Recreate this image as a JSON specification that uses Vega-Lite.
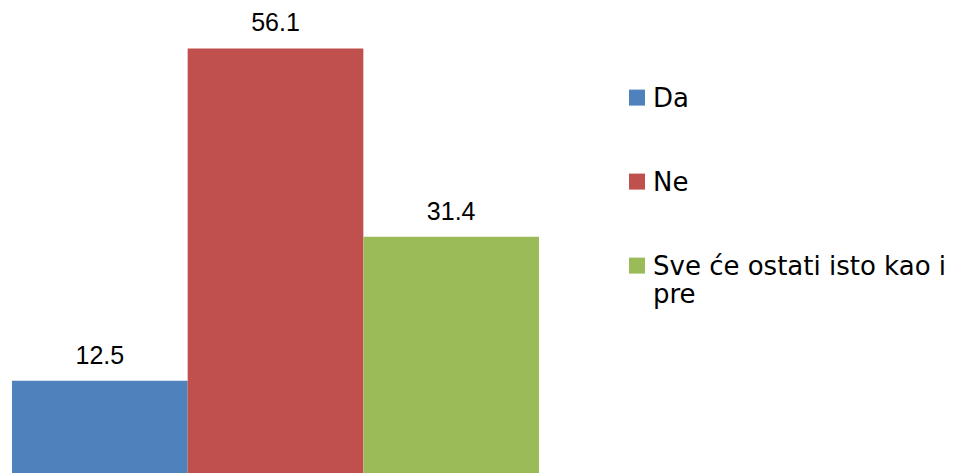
{
  "$schema": "https://vega.github.io/schema/vega-lite/v6.json",
  "width": 527,
  "height": 476,
  "autosize": {"type": "none"},
  "padding": {"left": 12, "right": 427, "top": 0, "bottom": 0},
  "background": "white",
  "config": {"view": {"stroke": null}},
  "data": {
    "values": [
      {"kategorija": "Da", "procenat": 12.5},
      {"kategorija": "Ne", "procenat": 56.1},
      {"kategorija": "Sve će ostati isto kao i pre", "procenat": 31.4}
    ]
  },
  "encoding": {
    "x": {
      "field": "kategorija",
      "type": "nominal",
      "sort": null,
      "axis": null,
      "scale": {"paddingInner": 0, "paddingOuter": 0}
    },
    "y": {
      "field": "procenat",
      "type": "quantitative",
      "axis": null,
      "scale": {"domain": [0, 62.46], "nice": false, "zero": true}
    }
  },
  "layer": [
    {
      "mark": {"type": "bar"},
      "encoding": {
        "color": {
          "field": "kategorija",
          "type": "nominal",
          "sort": null,
          "scale": {
            "domain": ["Da", "Ne", "Sve će ostati isto kao i pre"],
            "range": ["#4F81BD", "#C0504D", "#9BBB59"]
          },
          "legend": {
            "title": null,
            "orient": "none",
            "legendX": 612,
            "legendY": 94,
            "direction": "vertical",
            "symbolType": "M-1,-2.175H1V-0.175H-1Z",
            "symbolSize": 256,
            "symbolStrokeWidth": 0,
            "labelFont": "DejaVu Sans",
            "labelFontSize": 26,
            "labelColor": "#000000",
            "labelBaseline": "alphabetic",
            "labelLineHeight": 36,
            "labelLimit": 400,
            "labelOffset": 3,
            "rowPadding": 58,
            "labelExpr": "datum.label == 'Sve će ostati isto kao i pre' ? ['Sve će ostati isto kao i', 'pre'] : datum.label"
          }
        }
      }
    },
    {
      "mark": {
        "type": "text",
        "baseline": "alphabetic",
        "align": "center",
        "dy": -17,
        "font": "Liberation Sans",
        "fontSize": 25,
        "color": "#000000"
      },
      "encoding": {
        "text": {"field": "procenat", "type": "quantitative", "format": ".1f"}
      }
    }
  ]
}
